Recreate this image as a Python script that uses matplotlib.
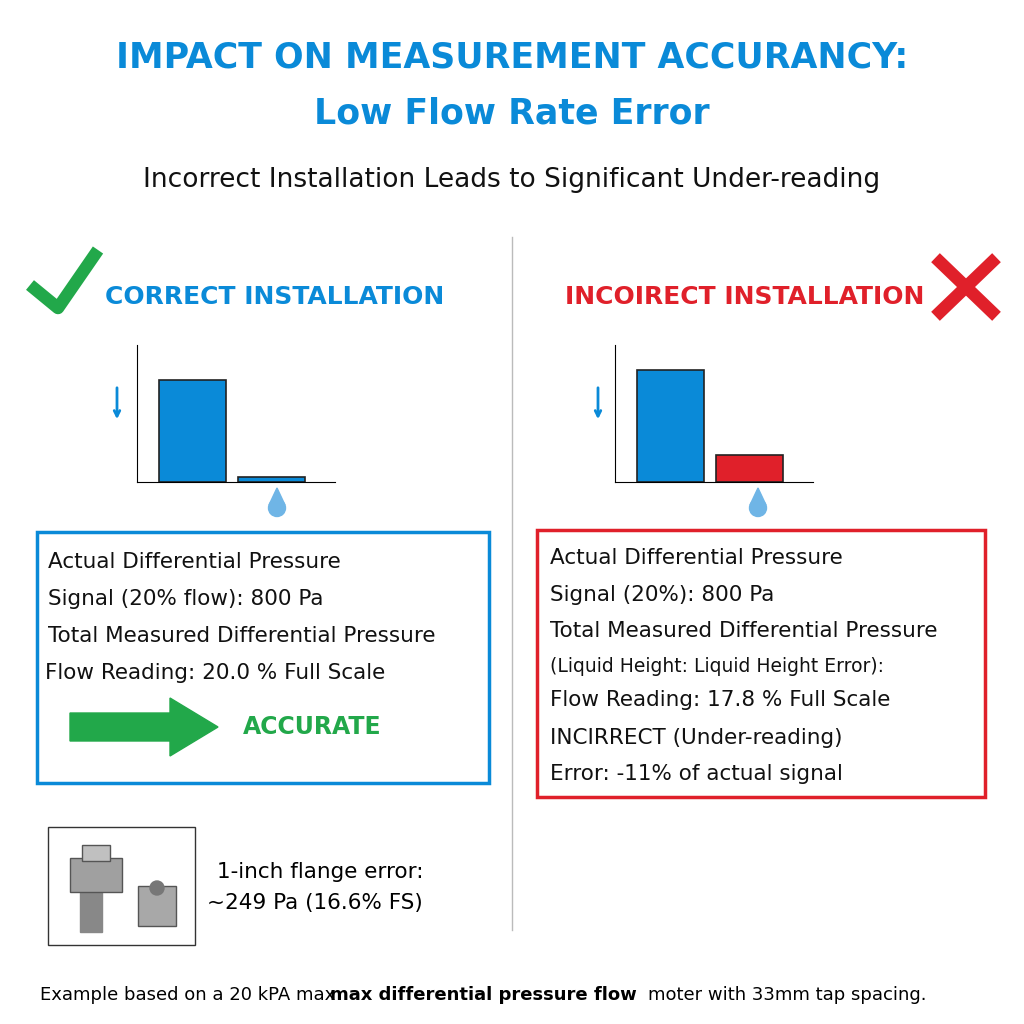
import matplotlib
matplotlib.use('Agg')
import matplotlib.pyplot as plt
from matplotlib.patches import Rectangle, FancyArrow, Polygon, Circle

BLUE = '#0a8ad8'
RED = '#e0202a'
GREEN = '#22a84a'

# bar values (Pa)
categories = ['Signal', 'Error']
correct_vals = [800, 40]
incorrect_vals = [800, 195]

left_lines = ['Actual Differential Pressure', 'Signal (20% flow): 800 Pa',
              'Total Measured Differential Pressure', 'Flow Reading: 20.0 % Full Scale']
right_lines = ['Actual Differential Pressure', 'Signal (20%): 800 Pa',
               'Total Measured Differential Pressure', '(Liquid Height: Liquid Height Error):',
               'Flow Reading: 17.8 % Full Scale', 'INCIRRECT (Under-reading)',
               'Error: -11% of actual signal']

fig = plt.figure(figsize=(10.24, 10.24), dpi=100)
ax = fig.add_axes([0, 0, 1, 1])
ax.set_xlim(0, 1024)
ax.set_ylim(1024, 0)
ax.axis('off')

ax.text(512, 57, 'IMPACT ON MEASUREMENT ACCURANCY:', ha='center', va='center',
        fontsize=25, fontweight='bold', color=BLUE)
ax.text(512, 113, 'Low Flow Rate Error', ha='center', va='center',
        fontsize=25, fontweight='bold', color=BLUE)
ax.text(512, 180, 'Incorrect Installation Leads to Significant Under-reading',
        ha='center', va='center', fontsize=19, color='#111111')
ax.plot([512, 512], [237, 930], color='#bbbbbb', lw=1)

# check mark and cross
ax.plot([30, 58, 98], [285, 308, 250], color=GREEN, lw=9, solid_capstyle='butt')
ax.text(275, 297, 'CORRECT INSTALLATION', ha='center', va='center',
        fontsize=18, fontweight='bold', color=BLUE)
ax.text(745, 297, 'INCOIRECT INSTALLATION', ha='center', va='center',
        fontsize=18, fontweight='bold', color=RED)
ax.plot([940, 992], [262, 312], color=RED, lw=9)
ax.plot([992, 940], [262, 312], color=RED, lw=9)

def bars(rect, vals, colors, ymax, arrow_x, drop_x):
    b = fig.add_axes(rect)
    b.bar([0, 1], vals, width=0.85, color=colors, edgecolor='#222222', lw=1.2)
    b.set_xlim(-0.7, 1.8)
    b.set_ylim(0, ymax)
    for s in ['top', 'right']:
        b.spines[s].set_visible(False)
    b.set_xticks([])
    b.set_yticks([])
    ax.annotate('', xy=(arrow_x, 422), xytext=(arrow_x, 385),
                arrowprops=dict(arrowstyle='->', color=BLUE, lw=2))
    ax.add_patch(Polygon([[drop_x, 488], [drop_x - 8, 505], [drop_x + 8, 505]],
                         color='#6fb5e6'))
    ax.add_patch(Circle((drop_x, 508), 8.5, color='#6fb5e6'))

bars([137 / 1024, (1024 - 482) / 1024, 198 / 1024, 137 / 1024], correct_vals,
     [BLUE, BLUE], 1075, 117, 277)
bars([615 / 1024, (1024 - 482) / 1024, 198 / 1024, 137 / 1024], incorrect_vals,
     [BLUE, RED], 980, 598, 758)

# text boxes
ax.add_patch(Rectangle((37, 532), 452, 251, fill=False, ec=BLUE, lw=2.5))
for i, t in enumerate(left_lines):
    ax.text(48 if i != 3 else 45, 562 + i * 37, t, va='center', fontsize=15.5, color='#111111')
ax.add_patch(FancyArrow(70, 727, 100, 0, width=28, head_width=58, head_length=48,
                        length_includes_head=False, color=GREEN))
ax.text(312, 727, 'ACCURATE', ha='center', va='center', fontsize=17,
        fontweight='bold', color=GREEN)

ax.add_patch(Rectangle((537, 530), 448, 267, fill=False, ec=RED, lw=2.5))
ys = [558, 595, 631, 666, 700, 738, 774]
for y, t in zip(ys, right_lines):
    ax.text(550, y, t, va='center', fontsize=15.5 if '(Liquid' not in t else 13.5,
            color='#111111')

# bolt icon box
ax.add_patch(Rectangle((48, 827), 147, 118, fill=False, ec='#333333', lw=1))
ax.add_patch(Rectangle((80, 890), 22, 42, color='#888888'))
ax.add_patch(Rectangle((70, 858), 52, 34, color='#a0a0a0', ec='#555555'))
ax.add_patch(Rectangle((82, 845), 28, 16, color='#c0c0c0', ec='#555555'))
ax.add_patch(Rectangle((138, 886), 38, 40, color='#a8a8a8', ec='#555555'))
ax.add_patch(Circle((157, 888), 7, color='#777777'))
ax.text(320, 872, '1-inch flange error:', ha='center', va='center', fontsize=15.5)
ax.text(315, 903, '~249 Pa (16.6% FS)', ha='center', va='center', fontsize=15.5)

ax.text(40, 995, 'Example based on a 20 kPA max ', va='center', fontsize=13)
ax.text(490, 995, 'Example based on a 20 kPA max ', va='center', fontsize=13, alpha=0)
ax.text(40, 995, 'Example based on a 20 kPA max $\\mathbf{max\\ differential\\ pressure\\ flow}$moter with 33mm tap spacing.',
        va='center', fontsize=13, alpha=0)
ax.text(330, 995, 'max differential pressure flow', va='center', fontsize=13, fontweight='bold')
ax.text(648, 995, 'moter with 33mm tap spacing.', va='center', fontsize=13)

fig.savefig('out.png', dpi=100)
